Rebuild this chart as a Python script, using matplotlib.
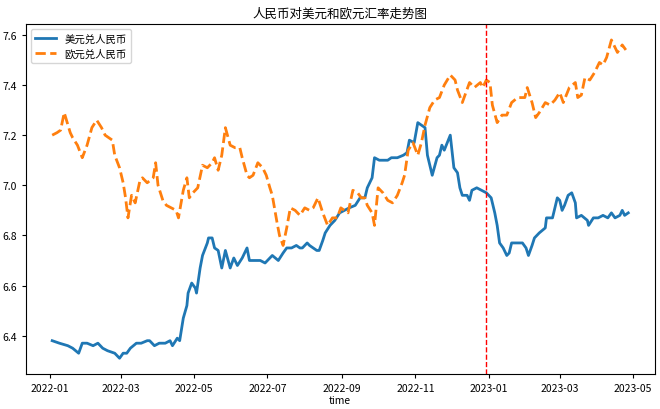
import matplotlib
matplotlib.use("Agg")
import matplotlib.dates as mdates
import pandas as pd
from matplotlib import pyplot as plt

plt.rcParams["font.family"] = ["Noto Sans CJK SC", "DejaVu Sans"]
plt.rcParams["axes.unicode_minus"] = False

# 美元兑人民币
usd_dates = [
    "2022-01-03", "2022-01-09", "2022-01-16", "2022-01-20", "2022-01-25", "2022-01-28",
    "2022-02-01", "2022-02-06", "2022-02-10", "2022-02-14", "2022-02-18", "2022-02-24",
    "2022-02-28", "2022-03-03", "2022-03-06", "2022-03-09", "2022-03-14", "2022-03-18",
    "2022-03-23", "2022-03-25", "2022-03-29", "2022-04-02", "2022-04-07", "2022-04-11",
    "2022-04-13", "2022-04-17", "2022-04-19", "2022-04-22", "2022-04-25", "2022-04-26",
    "2022-04-29", "2022-05-02", "2022-05-03", "2022-05-06", "2022-05-08", "2022-05-12",
    "2022-05-13", "2022-05-16", "2022-05-18", "2022-05-21", "2022-05-24", "2022-05-27",
    "2022-05-31", "2022-06-03", "2022-06-06", "2022-06-10", "2022-06-14", "2022-06-16",
    "2022-06-20", "2022-06-25", "2022-06-29", "2022-07-03", "2022-07-05", "2022-07-10",
    "2022-07-14", "2022-07-17", "2022-07-21", "2022-07-25", "2022-07-28", "2022-07-30",
    "2022-08-03", "2022-08-05", "2022-08-08", "2022-08-11", "2022-08-13", "2022-08-16",
    "2022-08-18", "2022-08-22", "2022-08-26", "2022-08-30", "2022-09-03", "2022-09-07",
    "2022-09-12", "2022-09-16", "2022-09-20", "2022-09-22", "2022-09-26", "2022-09-28",
    "2022-10-02", "2022-10-09", "2022-10-12", "2022-10-17", "2022-10-22", "2022-10-25",
    "2022-10-27", "2022-10-31", "2022-11-03", "2022-11-06", "2022-11-09", "2022-11-11",
    "2022-11-15", "2022-11-19", "2022-11-21", "2022-11-23", "2022-11-25", "2022-11-30",
    "2022-12-03", "2022-12-06", "2022-12-08", "2022-12-10", "2022-12-14", "2022-12-16",
    "2022-12-18", "2022-12-22", "2022-12-26", "2022-12-30", "2023-01-03", "2023-01-06",
    "2023-01-08", "2023-01-10", "2023-01-13", "2023-01-16", "2023-01-18", "2023-01-20",
    "2023-01-24", "2023-01-29", "2023-02-01", "2023-02-03", "2023-02-06", "2023-02-08",
    "2023-02-12", "2023-02-17", "2023-02-18", "2023-02-23", "2023-02-27", "2023-03-01",
    "2023-03-03", "2023-03-05", "2023-03-08", "2023-03-11", "2023-03-14", "2023-03-15",
    "2023-03-19", "2023-03-24", "2023-03-25", "2023-03-29", "2023-04-02", "2023-04-06",
    "2023-04-10", "2023-04-13", "2023-04-16", "2023-04-20", "2023-04-22", "2023-04-24",
    "2023-04-27",
]
usd_rate = [
    6.38, 6.37, 6.36, 6.35, 6.33, 6.37,
    6.37, 6.36, 6.37, 6.35, 6.34, 6.33,
    6.31, 6.33, 6.33, 6.35, 6.37, 6.37,
    6.38, 6.38, 6.36, 6.37, 6.37, 6.38,
    6.36, 6.39, 6.38, 6.47, 6.52, 6.57,
    6.61, 6.59, 6.57, 6.67, 6.72, 6.77,
    6.79, 6.79, 6.75, 6.74, 6.67, 6.74,
    6.67, 6.71, 6.68, 6.71, 6.75, 6.70,
    6.70, 6.70, 6.69, 6.71, 6.72, 6.70,
    6.73, 6.75, 6.75, 6.76, 6.75, 6.75,
    6.77, 6.76, 6.75, 6.74, 6.74, 6.78,
    6.81, 6.84, 6.86, 6.89, 6.90, 6.91,
    6.92, 6.95, 6.95, 6.99, 7.03, 7.11,
    7.10, 7.10, 7.11, 7.11, 7.12, 7.13,
    7.18, 7.17, 7.25, 7.24, 7.23, 7.12,
    7.04, 7.11, 7.12, 7.16, 7.14, 7.20,
    7.07, 7.05, 6.99, 6.96, 6.96, 6.94,
    6.98, 6.99, 6.98, 6.97, 6.95, 6.89,
    6.84, 6.77, 6.75, 6.72, 6.73, 6.77,
    6.77, 6.77, 6.75, 6.72, 6.76, 6.79,
    6.81, 6.83, 6.87, 6.87, 6.95, 6.94,
    6.90, 6.92, 6.96, 6.97, 6.93, 6.87,
    6.88, 6.86, 6.84, 6.87, 6.87, 6.88,
    6.87, 6.89, 6.87, 6.88, 6.90, 6.88,
    6.89,
]

# 欧元兑人民币
eur_dates = [
    "2022-01-03", "2022-01-07", "2022-01-10", "2022-01-13", "2022-01-18", "2022-01-20",
    "2022-01-24", "2022-01-28", "2022-02-01", "2022-02-05", "2022-02-09", "2022-02-13",
    "2022-02-16", "2022-02-22", "2022-02-24", "2022-02-28", "2022-03-03", "2022-03-05",
    "2022-03-07", "2022-03-10", "2022-03-13", "2022-03-17", "2022-03-19", "2022-03-23",
    "2022-03-28", "2022-03-30", "2022-04-01", "2022-04-05", "2022-04-08", "2022-04-12",
    "2022-04-16", "2022-04-18", "2022-04-22", "2022-04-25", "2022-04-27", "2022-04-30",
    "2022-05-04", "2022-05-08", "2022-05-12", "2022-05-16", "2022-05-18", "2022-05-21",
    "2022-05-24", "2022-05-27", "2022-05-31", "2022-06-04", "2022-06-08", "2022-06-10",
    "2022-06-14", "2022-06-16", "2022-06-19", "2022-06-23", "2022-06-27", "2022-06-30",
    "2022-07-03", "2022-07-05", "2022-07-09", "2022-07-11", "2022-07-14", "2022-07-17",
    "2022-07-20", "2022-07-24", "2022-07-28", "2022-08-01", "2022-08-05", "2022-08-08",
    "2022-08-12", "2022-08-16", "2022-08-20", "2022-08-24", "2022-08-28", "2022-08-31",
    "2022-09-03", "2022-09-06", "2022-09-10", "2022-09-14", "2022-09-17", "2022-09-20",
    "2022-09-22", "2022-09-26", "2022-09-28", "2022-10-01", "2022-10-05", "2022-10-09",
    "2022-10-13", "2022-10-17", "2022-10-21", "2022-10-23", "2022-10-26", "2022-10-30",
    "2022-11-03", "2022-11-06", "2022-11-09", "2022-11-13", "2022-11-17", "2022-11-21",
    "2022-11-25", "2022-11-30", "2022-12-04", "2022-12-06", "2022-12-10", "2022-12-13",
    "2022-12-16", "2022-12-20", "2022-12-25", "2022-12-27", "2022-12-30", "2023-01-02",
    "2023-01-04", "2023-01-08", "2023-01-12", "2023-01-16", "2023-01-20", "2023-01-25",
    "2023-01-31", "2023-02-02", "2023-02-06", "2023-02-09", "2023-02-12", "2023-02-17",
    "2023-02-21", "2023-02-25", "2023-03-01", "2023-03-04", "2023-03-09", "2023-03-14",
    "2023-03-16", "2023-03-19", "2023-03-22", "2023-03-26", "2023-03-30", "2023-04-03",
    "2023-04-06", "2023-04-09", "2023-04-13", "2023-04-16", "2023-04-18", "2023-04-22",
    "2023-04-25",
]
eur_rate = [
    7.20, 7.21, 7.22, 7.29, 7.21, 7.19,
    7.16, 7.11, 7.16, 7.23, 7.26, 7.23,
    7.20, 7.18, 7.12, 7.07, 7.01, 6.95,
    6.87, 6.96, 6.93, 7.02, 7.03, 7.01,
    7.03, 7.09, 7.00, 6.94, 6.92, 6.91,
    6.90, 6.87, 6.98, 7.03, 6.95, 6.97,
    6.99, 7.08, 7.07, 7.09, 7.11, 7.06,
    7.12, 7.23, 7.16, 7.15, 7.15, 7.11,
    7.04, 7.03, 7.04, 7.09, 7.07, 7.04,
    6.99, 6.96, 6.85, 6.80, 6.76, 6.83,
    6.91, 6.90, 6.88, 6.91, 6.90, 6.91,
    6.95, 6.89, 6.84, 6.87, 6.87, 6.91,
    6.90, 6.89, 6.98, 6.97, 6.95, 6.95,
    6.92, 6.89, 6.84, 6.99, 6.97, 6.94,
    6.93, 6.96, 7.01, 7.04, 7.14, 7.17,
    7.12, 7.17, 7.24, 7.31, 7.34, 7.35,
    7.40, 7.44, 7.42, 7.38, 7.33, 7.37,
    7.41, 7.39, 7.41, 7.39, 7.42, 7.41,
    7.32, 7.25, 7.28, 7.28, 7.33, 7.35,
    7.35, 7.39, 7.33, 7.27, 7.29, 7.33,
    7.32, 7.34, 7.37, 7.33, 7.39, 7.41,
    7.35, 7.36, 7.43, 7.42, 7.45, 7.49,
    7.48, 7.51, 7.58, 7.55, 7.53, 7.56,
    7.54,
]

split_date = "2022-12-30"

fig = plt.figure(figsize=(6.6, 4.1), dpi=100)
ax = fig.add_axes([0.039, 0.085, 0.953, 0.854])

ax.plot(pd.to_datetime(usd_dates), usd_rate, color="#1f77b4", lw=2, label="美元兑人民币")
ax.plot(pd.to_datetime(eur_dates), eur_rate, color="#ff7f0e", lw=2, ls="--", label="欧元兑人民币")
ax.axvline(pd.to_datetime(split_date), color="red", ls="--", lw=1)

ax.set_xlim(pd.to_datetime("2021-12-12"), pd.to_datetime("2023-05-19"))
ax.xaxis.set_major_locator(mdates.MonthLocator(bymonth=[1, 3, 5, 7, 9, 11]))
ax.xaxis.set_major_formatter(mdates.DateFormatter("%Y-%m"))
ax.set_yticks([6.4, 6.6, 6.8, 7.0, 7.2, 7.4, 7.6])
ax.tick_params(labelsize=7.5, length=3)
ax.set_xlabel("time", fontsize=7.5, labelpad=1)
ax.set_title("人民币对美元和欧元汇率走势图", fontsize=9, pad=5)
ax.legend(loc="upper left", fontsize=7.5)

fig.savefig("out.png", dpi=100)
